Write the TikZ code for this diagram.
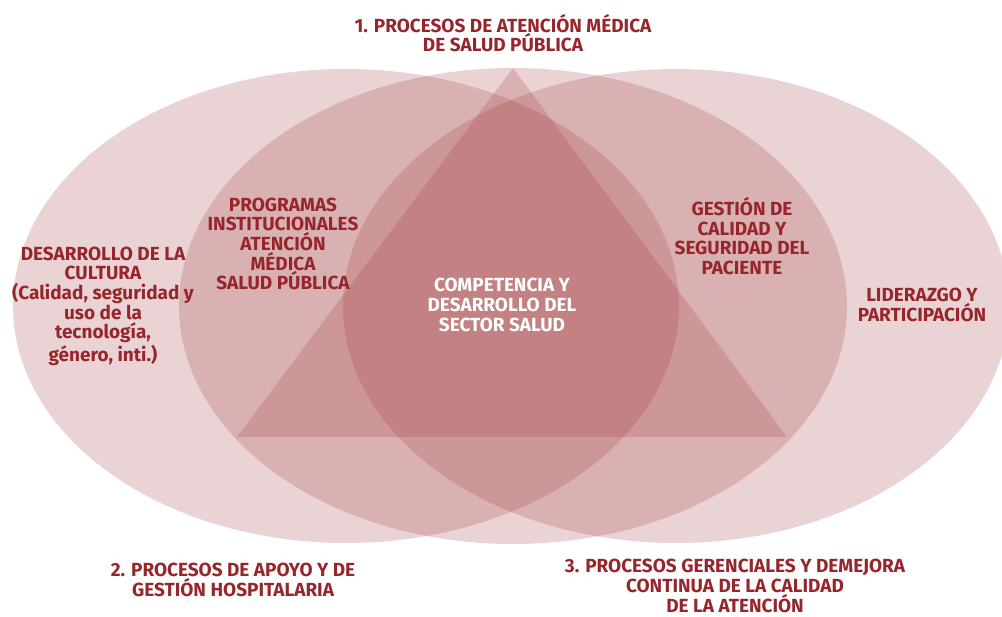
\documentclass[tikz,border=0pt]{standalone}
\usepackage{fontspec}
\setmainfont{Fira Sans}
\usepackage{xcolor}

\definecolor{salud}{RGB}{160,55,58}
\definecolor{vino}{RGB}{150,38,44}

\tikzset{
    capa/.style={fill=salud, fill opacity=0.22, draw=none},
    rotulo/.style={align=center, text=vino, font=\fontsize{10.8}{11.2}\selectfont\bfseries, inner sep=0pt},
    rotuloblanco/.style={rotulo, text=white}
}

\begin{document}
\begin{tikzpicture}[x=0.02cm, y=-0.02cm]

    \useasboundingbox (0, 0) rectangle (1002, 617);

    % Three ellipses
    \fill[capa] (346, 306) ellipse [x radius=333, y radius=237];
    \fill[capa] (513, 306) ellipse [x radius=334, y radius=238];
    \fill[capa] (676, 306) ellipse [x radius=333, y radius=237];

    % Triangle in the middle
    \coordinate (t1) at (513, 68);
    \coordinate (t2) at (237, 437);
    \coordinate (t3) at (787, 437);

    \fill[capa] (t1) -- (t2) -- (t3) -- cycle;

    % Labels
    \node[rotulo] (proc1) at (503, 33) {1. PROCESOS DE ATENCIÓN MÉDICA\\DE SALUD PÚBLICA};

    \node[rotulo] (cultura) at (103, 306) {DESARROLLO DE LA\\CULTURA\\(Calidad, seguridad y\\uso de la\\tecnología,\\género, inti.)};

    \node[rotulo] (programas) at (283, 244) {PROGRAMAS\\INSTITUCIONALES\\ATENCIÓN\\MÉDICA\\SALUD PÚBLICA};

    \node[rotuloblanco] (competencia) at (502, 305) {COMPETENCIA Y\\DESARROLLO DEL\\SECTOR SALUD};

    \node[rotulo] (gestion) at (742, 236) {GESTIÓN DE\\CALIDAD Y\\SEGURIDAD DEL\\PACIENTE};

    \node[rotulo] (liderazgo) at (922, 305) {LIDERAZGO Y\\PARTICIPACIÓN};

    \node[rotulo] (proc2) at (233, 580) {2. PROCESOS DE APOYO Y DE\\GESTIÓN HOSPITALARIA};

    \node[rotulo] (proc3) at (735, 586) {3. PROCESOS GERENCIALES Y DEMEJORA\\CONTINUA DE LA CALIDAD\\DE LA ATENCIÓN};

\end{tikzpicture}
\end{document}
